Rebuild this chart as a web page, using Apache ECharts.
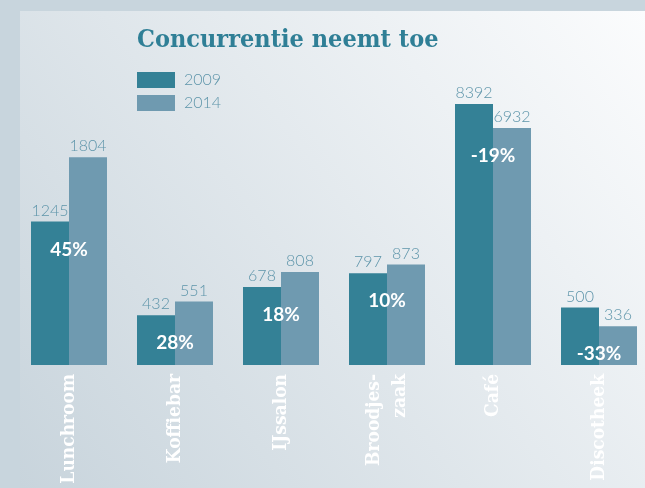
<!DOCTYPE html>
<html>
<head>
<meta charset="utf-8">
<style>
  html, body { margin: 0; padding: 0; background: #c8d5dd; }
  #chart { width: 645px; height: 488px; }
</style>
<script src="https://cdn.jsdelivr.net/npm/echarts@6/dist/echarts.min.js"></script>
</head>
<body>
<div id="chart"></div>
<script>
const categories = ['Lunchroom', 'Koffiebar', 'IJssalon', 'Broodjes-\nzaak', 'Café', 'Discotheek'];
const values2009 = [1245, 432, 678, 797, 8392, 500];
const values2014 = [1804, 551, 808, 873, 6932, 336];
const changeLabels = ['45%', '28%', '18%', '10%', '-19%', '-33%'];

const slab = '"DejaVu Serif Condensed", "DejaVu Serif", serif';
const thin = 'Lato, "Open Sans", sans-serif';

const chart = echarts.init(document.getElementById('chart'));

const valueLabel = {
    show: true,
    position: 'top',
    distance: 3,
    color: '#5e95aa',
    fontFamily: thin,
    fontWeight: 300,
    fontSize: 16
};

chart.setOption({
    animation: false,
    backgroundColor: '#c8d5dd',
    graphic: [
        {
            type: 'rect',
            z: -10,
            shape: { x: 20, y: 11, width: 625, height: 477 },
            style: {
                fill: new echarts.graphic.LinearGradient(1, 0, 0, 1, [
                    { offset: 0, color: '#fbfcfd' },
                    { offset: 1, color: '#c8d4dc' }
                ])
            }
        }
    ],
    title: {
        text: 'Concurrentie neemt toe',
        left: 132,
        top: 23,
        textStyle: {
            color: '#2f7f96',
            fontFamily: slab,
            fontWeight: 'bold',
            fontSize: 25
        }
    },
    legend: {
        orient: 'vertical',
        left: 137,
        top: 72,
        padding: 0,
        itemWidth: 38,
        itemHeight: 16,
        itemGap: 7,
        icon: 'rect',
        textStyle: {
            color: '#5e95aa',
            fontFamily: thin,
            fontWeight: 300,
            fontSize: 16,
            padding: [0, 0, 0, 4]
        }
    },
    grid: {
        left: 16,
        width: 636,
        top: 80,
        height: 285,
        outerBoundsMode: 'none'
    },
    xAxis: {
        type: 'category',
        data: categories,
        axisLine: { show: false },
        axisTick: { show: false },
        axisLabel: {
            interval: 0,
            rotate: 90,
            margin: 9,
            color: '#ffffff',
            fontFamily: slab,
            fontWeight: 'bold',
            fontSize: 19,
            lineHeight: 26
        }
    },
    yAxis: {
        type: 'value',
        min: 0,
        max: 8600,
        show: false,
        splitLine: { show: false },
        breaks: [
            { start: 2000, end: 6875, gap: 0 },
            { start: 7000, end: 8251, gap: 0 }
        ],
        breakArea: { show: false }
    },
    series: [
        {
            name: '2009',
            type: 'bar',
            data: values2009,
            barWidth: 38,
            barGap: '0%',
            itemStyle: { color: '#348196' },
            label: valueLabel
        },
        {
            name: '2014',
            type: 'bar',
            data: values2014,
            barWidth: 38,
            itemStyle: { color: '#6f9ab0' },
            label: valueLabel
        },
        {
            type: 'custom',
            z: 10,
            data: categories.map((c, i) => [i, Math.min(values2009[i], values2014[i])]),
            renderItem: function (params, api) {
                const p = api.coord([api.value(0), api.value(1)]);
                return {
                    type: 'text',
                    x: p[0],
                    y: p[1] + 28,
                    style: {
                        text: changeLabels[params.dataIndex],
                        fill: '#ffffff',
                        font: 'bold 19px Lato, "Open Sans", sans-serif',
                        align: 'center',
                        verticalAlign: 'middle'
                    }
                };
            }
        }
    ]
});
</script>
</body>
</html>
